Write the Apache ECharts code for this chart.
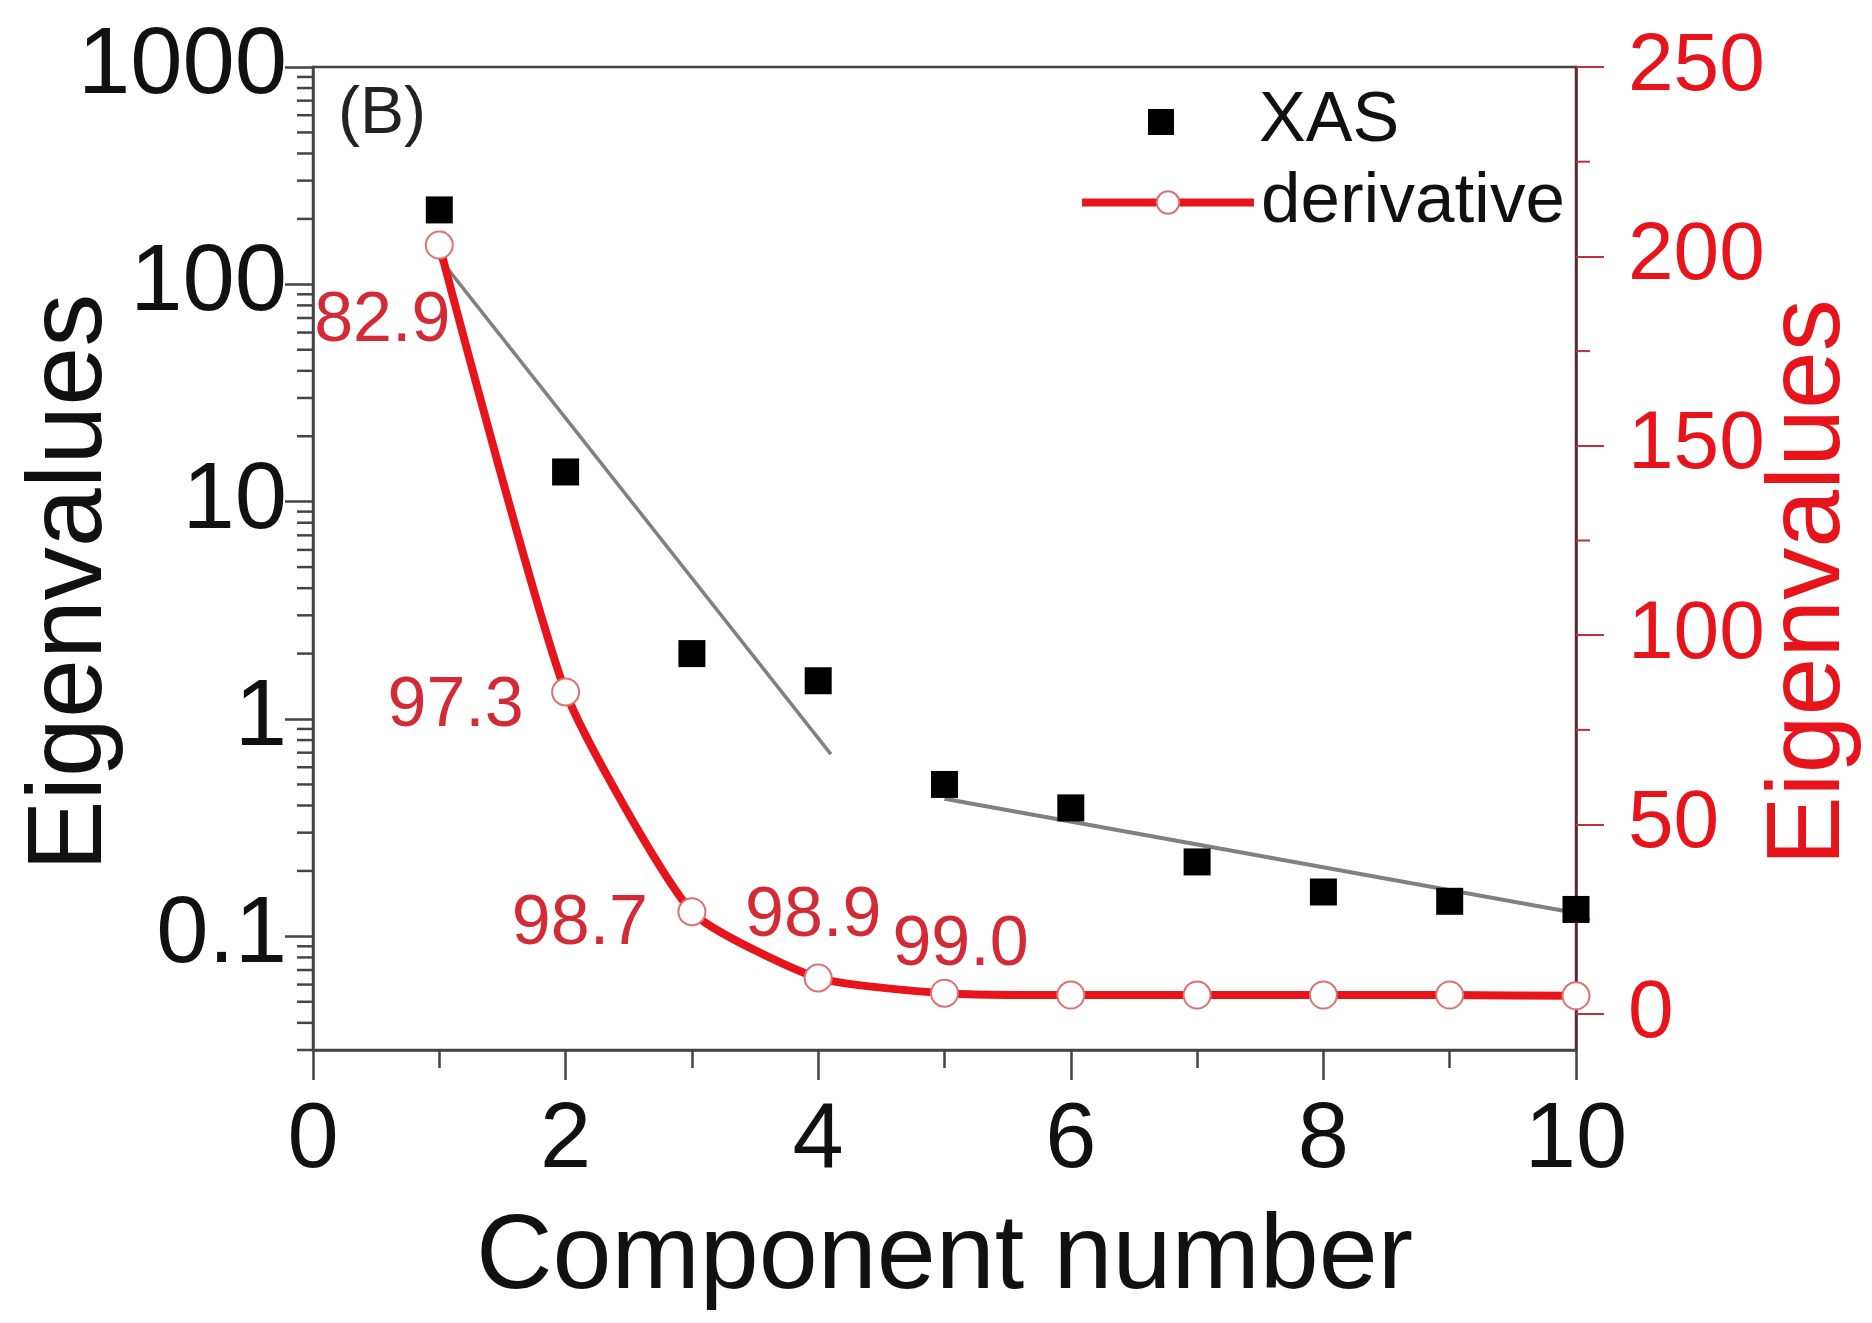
<!DOCTYPE html>
<html>
<head>
<meta charset="utf-8">
<script src="https://cdn.jsdelivr.net/npm/echarts@6/dist/echarts.min.js"></script>
<style>
html,body{margin:0;padding:0;background:#fff;}
#chart{width:1872px;height:1323px;}
</style>
</head>
<body>
<div id="chart"></div>
<script>
// ---- data ----
const componentNumbers = [1, 2, 3, 4, 5, 6, 7, 8, 9, 10];
const xasEigenvalues = [220, 13.7, 2.0, 1.5, 0.50, 0.39, 0.22, 0.16, 0.145, 0.133];
const derivativeValues = [203, 85, 27, 9.5, 5.5, 5.0, 5.0, 5.0, 5.0, 4.8];
const cumulativeLabels = ['82.9', '97.3', '98.7', '98.9', '99.0'];
const fitLine1 = [[1, 132], [4.1, 0.69]];
const fitLine2 = [[5, 0.43], [10, 0.128]];
const leftTickValues = [0.1, 1, 10, 100, 1000];
const leftMinorTickValues = [0.03,0.04,0.05,0.06,0.07,0.08,0.09,
  0.2,0.3,0.4,0.5,0.6,0.7,0.8,0.9, 2,3,4,5,6,7,8,9,
  20,30,40,50,60,70,80,90, 200,300,400,500,600,700,800,900];
const rightTickValues = [0, 50, 100, 150, 200, 250];
const rightMinorTickValues = [25, 75, 125, 175, 225];

// ---- styling / positions (not data) ----
const FONT = "'Liberation Sans', Arial, sans-serif";
const RED = '#e8141c';
const labelOffsets = [[-57, 77], [-110, 15], [-112, 13], [-5, -61], [16, -47]];

const derivData = componentNumbers.map((x, i) => {
  const item = { value: [x, derivativeValues[i]] };
  if (i < cumulativeLabels.length) {
    item.label = {
      show: true, formatter: cumulativeLabels[i], position: 'inside',
      offset: labelOffsets[i], color: '#d42a35', fontSize: 70, fontFamily: FONT
    };
  }
  return item;
});

const chart = echarts.init(document.getElementById('chart'));
chart.setOption({
  backgroundColor: '#fff',
  animation: false,
  grid: { left: 313, right: 296, top: 67, bottom: 273, containLabel: false, outerBoundsMode: 'none',
    show: true, borderColor: '#444', borderWidth: 2.5, backgroundColor: 'transparent' },
  legend: [
    { data: ['XAS'], left: 1143, top: 82, itemWidth: 26, itemHeight: 26,
      itemStyle: { opacity: 1, color: '#000' },
      textStyle: { fontSize: 70, fontFamily: FONT, color: '#111', padding: [0, 0, 0, 80] } },
    { data: ['derivative'], left: 1073, top: 162, itemWidth: 172, itemHeight: 28,
      lineStyle: { width: 8, color: RED },
      textStyle: { fontSize: 71, fontFamily: FONT, color: '#111', padding: [0, 0, 0, 2] } }
  ],
  xAxis: {
    type: 'value', min: 0, max: 10, interval: 2,
    name: 'Component number', nameLocation: 'middle', nameGap: 156, nameMoveOverlap: false,
    nameTextStyle: { fontSize: 106, fontFamily: FONT, color: '#111' },
    axisLine: { onZero: false, lineStyle: { color: '#444', width: 2.5 } },
    axisTick: { length: 30, lineStyle: { color: '#444', width: 2.5 } },
    minorTick: { show: true, splitNumber: 2, length: 18, lineStyle: { color: '#444', width: 2.5 } },
    axisLabel: { fontSize: 92, fontFamily: FONT, color: '#111', margin: 46 },
    splitLine: { show: false }
  },
  yAxis: [
    {
      type: 'log', logBase: 10, min: 0.03, max: 1000, position: 'left',
      name: 'Eigenvalues', nameLocation: 'middle', nameGap: 188, nameMoveOverlap: false,
      nameTextStyle: { fontSize: 106, fontFamily: FONT, color: '#111', padding: [0, 48, 0, 0] },
      axisLine: { show: true, onZero: false, lineStyle: { color: '#444', width: 2.5 } },
      axisTick: { show: true, length: 28, customValues: leftTickValues, lineStyle: { color: '#444', width: 2.5 } },
      axisLabel: { customValues: leftTickValues, fontSize: 94, fontFamily: FONT, color: '#111', margin: 26,
        formatter: v => String(v) },
      splitLine: { show: false }
    },
    {
      type: 'value', min: -9.5, max: 250, position: 'right',
      name: 'Eigenvalues', nameLocation: 'middle', nameGap: 182, nameMoveOverlap: false,
      nameTextStyle: { fontSize: 104, fontFamily: FONT, color: RED, padding: [0, 48, 0, 0] },
      axisLine: { show: true, onZero: false, lineStyle: { color: '#5c2630', width: 2.5 } },
      axisTick: { show: true, length: 28, customValues: rightTickValues, lineStyle: { color: '#c0303a', width: 2 } },
      axisLabel: { customValues: rightTickValues, fontSize: 82, fontFamily: FONT, color: RED, margin: 52 },
      splitLine: { show: false }
    }
  ],
  series: [
    {
      name: 'fit1', type: 'line', data: fitLine1, yAxisIndex: 0, symbol: 'none',
      lineStyle: { color: '#808080', width: 3.5 }, z: 2, silent: true
    },
    {
      name: 'fit2', type: 'line', data: fitLine2, yAxisIndex: 0, symbol: 'none',
      lineStyle: { color: '#808080', width: 4 }, z: 2, silent: true
    },
    {
      name: 'derivative', type: 'line', yAxisIndex: 1, data: derivData,
      smooth: 0.18,
      symbol: 'circle', symbolSize: 27,
      itemStyle: { color: '#fff', borderColor: '#e07070', borderWidth: 2 },
      lineStyle: { color: RED, width: 8 }, z: 3
    },
    {
      name: 'XAS', type: 'scatter', yAxisIndex: 0,
      data: componentNumbers.map((x, i) => [x, xasEigenvalues[i]]),
      symbol: 'rect', symbolSize: 27, itemStyle: { color: '#000', opacity: 1 }, z: 4
    },
    {
      name: 'leftMinorTicks', type: 'custom', yAxisIndex: 0, clip: false, silent: true,
      data: leftMinorTickValues.map(v => [0, v]),
      renderItem: (params, api) => {
        const p = api.coord([0, api.value(1)]);
        return { type: 'line', shape: { x1: p[0] - 16, y1: p[1], x2: p[0], y2: p[1] },
          style: { stroke: '#444', lineWidth: 2.5 } };
      }
    },
    {
      name: 'rightMinorTicks', type: 'custom', yAxisIndex: 1, clip: false, silent: true,
      data: rightMinorTickValues.map(v => [10, v]),
      renderItem: (params, api) => {
        const p = api.coord([10, api.value(1)]);
        return { type: 'line', shape: { x1: p[0], y1: p[1], x2: p[0] + 14, y2: p[1] },
          style: { stroke: '#c0303a', lineWidth: 2 } };
      }
    }
  ],
  graphic: [
    { type: 'text', left: 338, top: 82, style: { text: '(B)', fontSize: 66, fontFamily: FONT, fill: '#222' } }
  ]
});
</script>
</body>
</html>
